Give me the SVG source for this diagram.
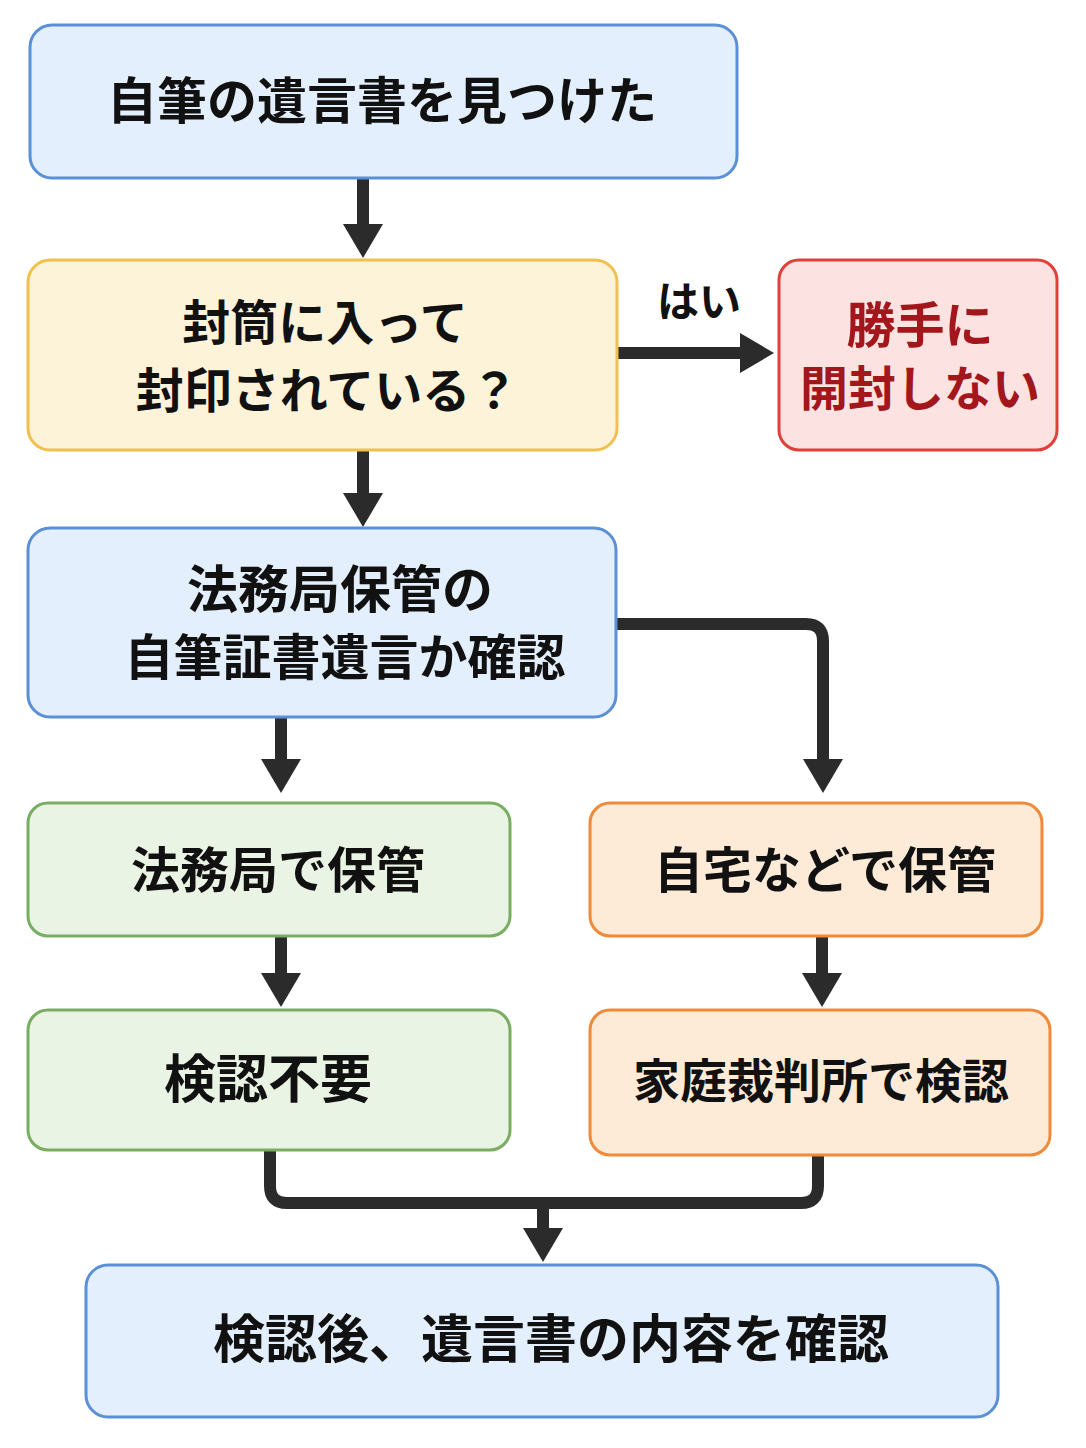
<svg xmlns="http://www.w3.org/2000/svg" width="1086" height="1448" viewBox="0 0 1086 1448">
<defs>
<style>
.t{font-family:"Noto Sans CJK JP","Noto Sans",sans-serif;font-weight:700;fill:#111;text-anchor:middle}
.blue{fill:#e3effc;stroke:#5b8fd6;stroke-width:3}
.yel{fill:#fdf3d9;stroke:#f2c04e;stroke-width:3}
.red{fill:#fde2e2;stroke:#e0403a;stroke-width:3}
.grn{fill:#eaf4e4;stroke:#78ad62;stroke-width:3}
.org{fill:#fdebd8;stroke:#f08a3a;stroke-width:3}
.c{fill:none;stroke:#2b2b2b;stroke-width:12}
</style>
<marker id="ah" markerUnits="userSpaceOnUse" markerWidth="36" markerHeight="42" refX="0" refY="20" orient="auto">
<path d="M0,0 L34,20 L0,40 z" fill="#2b2b2b"/>
</marker>
</defs>
<rect width="1086" height="1448" fill="#ffffff"/>
<g id="connectors">
<path class="c" d="M363,178 V224" marker-end="url(#ah)"/>
<path class="c" d="M617,353 H740" marker-end="url(#ah)"/>
<path class="c" d="M363,450 V493" marker-end="url(#ah)"/>
<path class="c" d="M281,717 V759" marker-end="url(#ah)"/>
<path class="c" d="M616,624 H806 Q823,624 823,641 V759" marker-end="url(#ah)"/>
<path class="c" d="M281,936 V973" marker-end="url(#ah)"/>
<path class="c" d="M822,936 V973" marker-end="url(#ah)"/>
<path class="c" d="M270,1150 V1186 Q270,1203 287,1203 H801 Q818,1203 818,1186 V1155"/>
<path class="c" d="M543,1203 V1228" marker-end="url(#ah)"/>
<text class="t" x="699" y="317" font-size="42">はい</text>
</g>
<g id="n1">
<rect class="blue" x="30" y="25" width="707" height="153" rx="22"/>
<text class="t" x="382" y="119" font-size="50">自筆の遺言書を見つけた</text>
</g>
<g id="n2">
<rect class="yel" x="28" y="260" width="589" height="190" rx="22"/>
<text class="t" x="325" y="340" font-size="48">封筒に入って</text>
<text class="t" x="327" y="408" font-size="48">封印されている？</text>
</g>
<g id="n3">
<rect class="red" x="779" y="260" width="278" height="190" rx="20"/>
<text class="t" x="920" y="343" font-size="49" style="fill:#a3161b">勝手に</text>
<text class="t" x="920" y="406" font-size="48" style="fill:#a3161b">開封しない</text>
</g>
<g id="n4">
<rect class="blue" x="28" y="528" width="588" height="189" rx="22"/>
<text class="t" x="340" y="608" font-size="51">法務局保管の</text>
<text class="t" x="345" y="675" font-size="49">自筆証書遺言か確認</text>
</g>
<g id="n5">
<rect class="grn" x="28" y="803" width="482" height="133" rx="20"/>
<text class="t" x="278" y="888" font-size="49">法務局で保管</text>
</g>
<g id="n6">
<rect class="org" x="590" y="803" width="452" height="133" rx="20"/>
<text class="t" x="825" y="888" font-size="49">自宅などで保管</text>
</g>
<g id="n7">
<rect class="grn" x="28" y="1010" width="482" height="140" rx="20"/>
<text class="t" x="268" y="1098" font-size="52">検認不要</text>
</g>
<g id="n8">
<rect class="org" x="590" y="1010" width="460" height="145" rx="20"/>
<text class="t" x="821" y="1098" font-size="47">家庭裁判所で検認</text>
</g>
<g id="n9">
<rect class="blue" x="86" y="1265" width="912" height="152" rx="22"/>
<text class="t" x="551" y="1358" font-size="52">検認後、遺言書の内容を確認</text>
</g>
</svg>
